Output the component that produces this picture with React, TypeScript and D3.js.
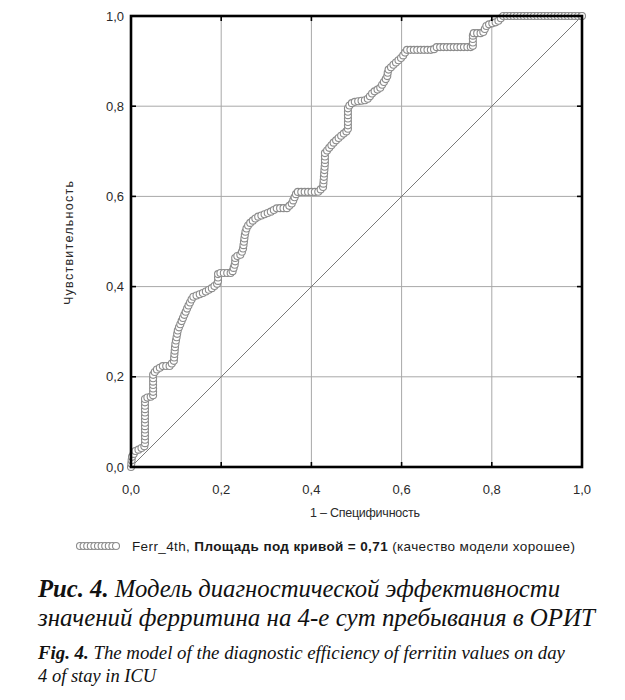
import * as d3 from 'd3';
import * as React from 'react';

const W = 625;
const H = 700;
const M = { left: 131, top: 16, right: 43, bottom: 233 };

// ROC vertices: 1 - specificity / sensitivity
const fpr = [
  0, 0.002, 0.009, 0.02, 0.031, 0.031, 0.04, 0.049, 0.049, 0.058, 0.071, 0.086,
  0.095, 0.098, 0.104, 0.115, 0.126, 0.137, 0.16, 0.18, 0.193, 0.193, 0.224,
  0.231, 0.231, 0.242, 0.248, 0.253, 0.257, 0.264, 0.279, 0.293, 0.308, 0.324,
  0.346, 0.357, 0.368, 0.415, 0.426, 0.43, 0.43, 0.448, 0.463, 0.481, 0.481,
  0.492, 0.523, 0.537, 0.552, 0.568, 0.57, 0.581, 0.601, 0.612, 0.67, 0.678,
  0.758, 0.758, 0.78, 0.789, 0.812, 0.825, 1,
];
const tpr = [
  0, 0.022, 0.035, 0.04, 0.047, 0.153, 0.155, 0.157, 0.206, 0.217, 0.224, 0.224,
  0.235, 0.271, 0.304, 0.33, 0.355, 0.377, 0.386, 0.397, 0.408, 0.43, 0.43,
  0.452, 0.466, 0.47, 0.481, 0.519, 0.532, 0.541, 0.554, 0.559, 0.565, 0.574,
  0.574, 0.585, 0.61, 0.61, 0.621, 0.674, 0.696, 0.718, 0.732, 0.747, 0.798,
  0.809, 0.814, 0.831, 0.84, 0.865, 0.88, 0.891, 0.909, 0.925, 0.925, 0.931,
  0.931, 0.962, 0.962, 0.98, 0.987, 1, 1,
];
const ticks = [0, 0.2, 0.4, 0.6, 0.8, 1];
const tickLabels = ['0,0', '0,2', '0,4', '0,6', '0,8', '1,0'];

const SANS = '"Liberation Sans", Arial, sans-serif';
const SERIF = '"Liberation Serif", "Times New Roman", serif';
const MARK = '#8c8c8c';

// places marker circles every `step` px along a pixel polyline
function alongPath(pts: [number, number][], step: number) {
  const out: [number, number][] = [pts[0]];
  let carry = 0;
  for (let i = 1; i < pts.length; i++) {
    const [x0, y0] = pts[i - 1];
    const [x1, y1] = pts[i];
    const len = Math.hypot(x1 - x0, y1 - y0);
    let t = step - carry;
    while (t <= len) {
      out.push([x0 + ((x1 - x0) * t) / len, y0 + ((y1 - y0) * t) / len]);
      t += step;
    }
    carry = len - (t - step);
  }
  out.push(pts[pts.length - 1]);
  return out;
}

export default function App() {
  const x = d3.scaleLinear().domain([0, 1]).range([M.left, W - M.right]);
  const y = d3.scaleLinear().domain([0, 1]).range([H - M.bottom, M.top]);
  const pix = fpr.map((f, i) => [x(f), y(tpr[i])] as [number, number]);
  const marks = alongPath(pix, 3.4);
  const legendMarks = d3.range(11).map(i => 80 + i * 3.6);

  return (
    <svg
      width={W}
      height={H}
      viewBox={`0 0 ${W} ${H}`}
      style={{ position: 'absolute', left: 0, top: 0, background: '#fff' }}
    >
      {ticks.slice(1, -1).map(t => (
        <g key={t} stroke="#a8a8a8" strokeWidth={1}>
          <line x1={x(t)} x2={x(t)} y1={y(0)} y2={y(1)} />
          <line x1={x(0)} x2={x(1)} y1={y(t)} y2={y(t)} />
        </g>
      ))}
      <line x1={x(0)} y1={y(0)} x2={x(1)} y2={y(1)} stroke="#7a7a7a" strokeWidth={1} />

      {marks.map(([cx, cy], i) => (
        <circle key={i} cx={cx} cy={cy} r={3.5} fill="#fff" stroke={MARK} strokeWidth={1.1} />
      ))}

      <rect
        x={x(0)}
        y={y(1)}
        width={x(1) - x(0)}
        height={y(0) - y(1)}
        fill="none"
        stroke="#000"
        strokeWidth={2.6}
      />
      {ticks.map(t => (
        <g key={t} stroke="#000" strokeWidth={1.6}>
          <line x1={x(t)} x2={x(t)} y1={y(0)} y2={y(0) - 5} />
          <line x1={x(t)} x2={x(t)} y1={y(1)} y2={y(1) + 5} />
          <line x1={x(0)} x2={x(0) + 5} y1={y(t)} y2={y(t)} />
          <line x1={x(1)} x2={x(1) - 5} y1={y(t)} y2={y(t)} />
        </g>
      ))}

      <g fontFamily={SANS} fontSize={13} fill="#2a2a2a">
        {ticks.map((t, i) => (
          <text key={'x' + t} x={x(t)} y={y(0) + 27} textAnchor="middle">
            {tickLabels[i]}
          </text>
        ))}
        {ticks.map((t, i) => (
          <text key={'y' + t} x={x(0) - 7} y={y(t) + 4.5} textAnchor="end">
            {tickLabels[i]}
          </text>
        ))}
        <text x={365} y={517} textAnchor="middle" fontSize={12.5} textLength={110} lengthAdjust="spacing">
          1 – Специфичность
        </text>
        <text
          transform="translate(73,243) rotate(-90)"
          textAnchor="middle"
          fontSize={12.5}
          textLength={124}
          lengthAdjust="spacing"
        >
          Чувствительность
        </text>
      </g>

      {legendMarks.map((lx, i) => (
        <circle key={i} cx={lx} cy={546} r={3.5} fill="#fff" stroke={MARK} strokeWidth={1.1} />
      ))}
      <text
        x={132}
        y={551}
        fontFamily={SANS}
        fontSize={13.5}
        fill="#1a1a1a"
        textLength={443}
        lengthAdjust="spacing"
      >
        Ferr_4th, <tspan fontWeight="bold">Площадь под кривой = 0,71</tspan> (качество модели хорошее)
      </text>

      <g fontFamily={SERIF} fontStyle="italic" fill="#111">
        <text x={38} y={597} fontSize={25} textLength={522} lengthAdjust="spacingAndGlyphs">
          <tspan fontWeight="bold">Рис. 4.</tspan> Модель диагностической эффективности
        </text>
        <text x={38} y={626} fontSize={25} textLength={557} lengthAdjust="spacingAndGlyphs">
          значений ферритина на 4-е сут пребывания в ОРИТ
        </text>
        <text x={38} y={659} fontSize={18.5} textLength={527} lengthAdjust="spacingAndGlyphs">
          <tspan fontWeight="bold">Fig. 4.</tspan> The model of the diagnostic efficiency of ferritin values on day
        </text>
        <text x={38} y={682} fontSize={18.5}>
          4 of stay in ICU
        </text>
      </g>
    </svg>
  );
}
